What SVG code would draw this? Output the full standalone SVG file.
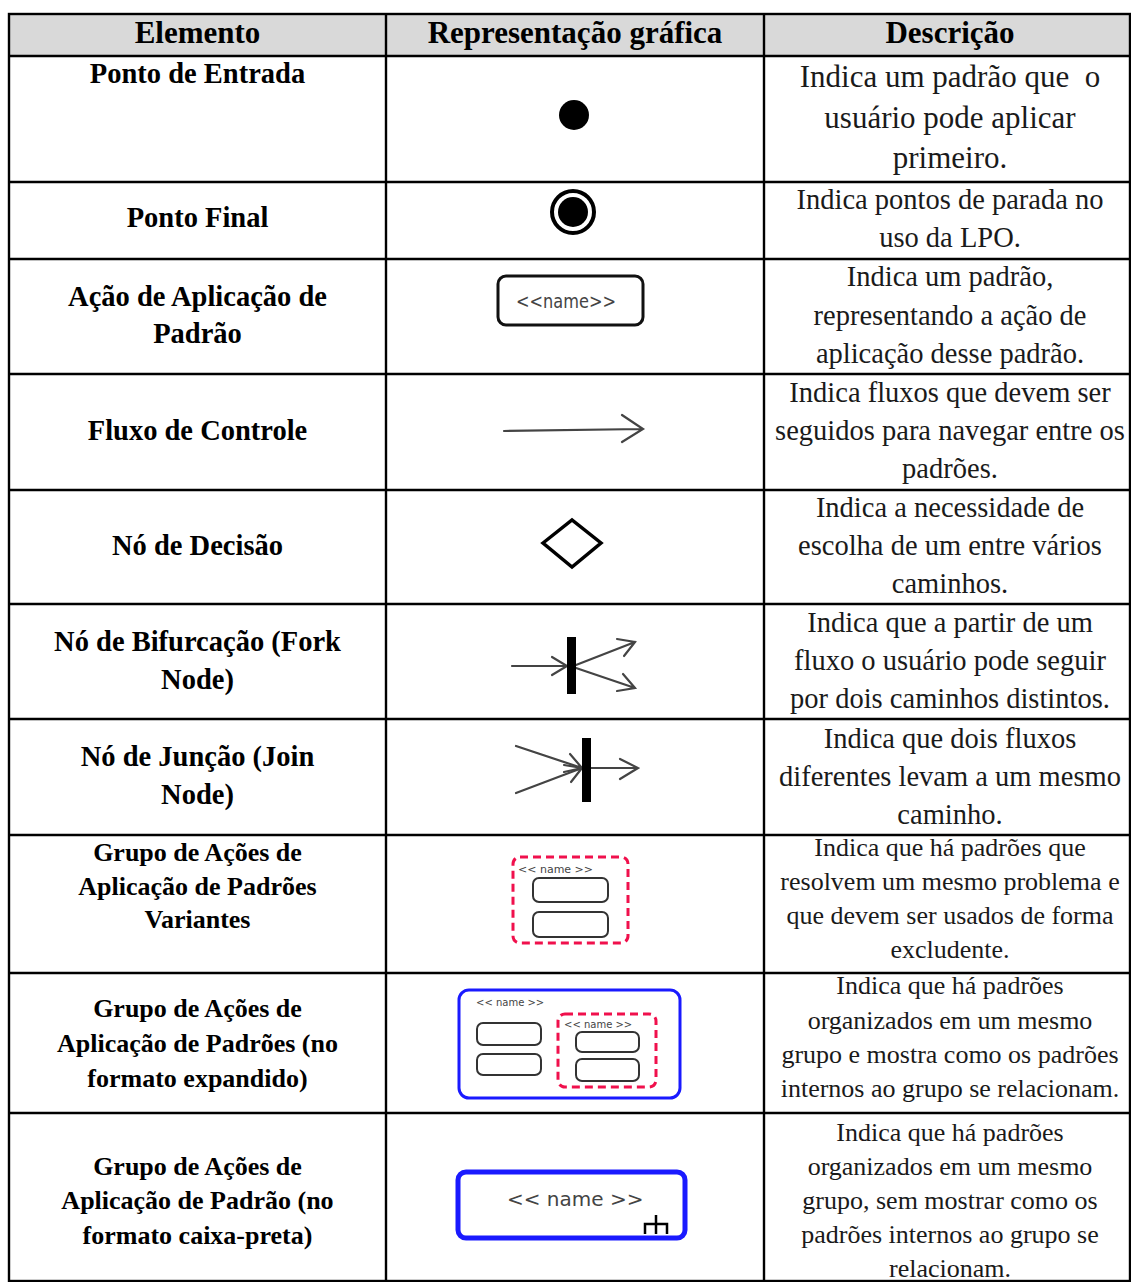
<svg xmlns="http://www.w3.org/2000/svg" width="1131" height="1282" viewBox="0 0 1131 1282">
<style>
.h{font-family:"Liberation Serif",serif;font-weight:bold;font-size:31px;fill:#000;text-anchor:middle}
.l{font-family:"Liberation Serif",serif;font-weight:bold;font-size:28.5px;fill:#000;text-anchor:middle}
.ls{font-family:"Liberation Serif",serif;font-weight:bold;font-size:26px;fill:#000;text-anchor:middle}
.d{font-family:"Liberation Serif",serif;font-size:28.5px;fill:#1a1a1a;text-anchor:middle;white-space:pre}
.d1{font-family:"Liberation Serif",serif;font-size:31px;fill:#1a1a1a;text-anchor:middle;white-space:pre}
.ds{font-family:"Liberation Serif",serif;font-size:26px;fill:#1a1a1a;text-anchor:middle}
.grid{stroke:#000;stroke-width:2.4;fill:none}
.arr{stroke:#444;stroke-width:2.2;fill:none;stroke-linecap:round}
.nm{font-family:"DejaVu Sans",sans-serif;fill:#444;text-anchor:start}
.box{fill:#fff;stroke:#333;stroke-width:2}
.red{fill:none;stroke:#f0104c;stroke-width:3;stroke-dasharray:8 5}
.blue{fill:#fff;stroke:#1a1aff}
</style>
<rect x="0" y="0" width="1131" height="1282" fill="#fff"/>
<g id="header">
<rect x="9" y="14" width="1121" height="42" fill="#d9d9d9"/>
<text class="h" x="197.5" y="43">Elemento</text>
<text class="h" x="575" y="43">Representação gráfica</text>
<text class="h" x="950" y="43">Descrição</text>
</g>
<g id="connectors">
<g class="grid">
<rect x="9" y="14" width="1121" height="1267"/>
<line x1="386" y1="14" x2="386" y2="1281"/>
<line x1="764" y1="14" x2="764" y2="1281"/>
<line x1="9" y1="56" x2="1130" y2="56"/>
<line x1="9" y1="182" x2="1130" y2="182"/>
<line x1="9" y1="259" x2="1130" y2="259"/>
<line x1="9" y1="374" x2="1130" y2="374"/>
<line x1="9" y1="490" x2="1130" y2="490"/>
<line x1="9" y1="604" x2="1130" y2="604"/>
<line x1="9" y1="719" x2="1130" y2="719"/>
<line x1="9" y1="835" x2="1130" y2="835"/>
<line x1="9" y1="973" x2="1130" y2="973"/>
<line x1="9" y1="1113" x2="1130" y2="1113"/>
</g>
</g>
<g id="row-entrada">
<text class="l" x="197.5" y="83">Ponto de Entrada</text>
<circle cx="574" cy="115" r="15" fill="#000"/>
<text class="d1" x="950" y="87">Indica um padrão que  o</text>
<text class="d1" x="950" y="128">usuário pode aplicar</text>
<text class="d1" x="950" y="168">primeiro.</text>
</g>
<g id="row-final">
<text class="l" x="197.5" y="227">Ponto Final</text>
<circle cx="573" cy="212" r="21" fill="#fff" stroke="#000" stroke-width="4"/>
<circle cx="573" cy="212" r="15" fill="#000"/>
<text class="d" x="950" y="209">Indica pontos de parada no</text>
<text class="d" x="950" y="247">uso da LPO.</text>
</g>
<g id="row-acao">
<text class="l" x="197.5" y="306">Ação de Aplicação de</text>
<text class="l" x="197.5" y="343">Padrão</text>
<rect x="498" y="276" width="145" height="49" rx="8" fill="#fff" stroke="#111" stroke-width="3"/>
<text class="nm" x="516" y="308" font-size="19" textLength="100" lengthAdjust="spacingAndGlyphs">&lt;&lt;name&gt;&gt;</text>
<text class="d" x="950" y="286">Indica um padrão,</text>
<text class="d" x="950" y="325">representando a ação de</text>
<text class="d" x="950" y="363">aplicação desse padrão.</text>
</g>
<g id="row-fluxo">
<text class="l" x="197.5" y="440">Fluxo de Controle</text>
<path class="arr" d="M504 431 L643 429 M622 415 L643 429 L622 442"/>
<text class="d" x="950" y="402">Indica fluxos que devem ser</text>
<text class="d" x="950" y="440">seguidos para navegar entre os</text>
<text class="d" x="950" y="478">padrões.</text>
</g>
<g id="row-decisao">
<text class="l" x="197.5" y="555">Nó de Decisão</text>
<polygon points="543,543 572,520 601,543 572,567" fill="#fff" stroke="#000" stroke-width="3.5"/>
<text class="d" x="950" y="517">Indica a necessidade de</text>
<text class="d" x="950" y="555">escolha de um entre vários</text>
<text class="d" x="950" y="593">caminhos.</text>
</g>
<g id="row-fork">
<text class="l" x="197.5" y="651">Nó de Bifurcação (Fork</text>
<text class="l" x="197.5" y="689">Node)</text>
<path class="arr" d="M512 666 L567 666 M552 657 L567 666 L552 675"/>
<path class="arr" d="M576 665 L635 642 M617 639 L635 642 L624 656"/>
<path class="arr" d="M576 668 L635 688 M623 674 L635 688 L617 691"/>
<rect x="567" y="637" width="9" height="57" fill="#000"/>
<text class="d" x="950" y="632">Indica que a partir de um</text>
<text class="d" x="950" y="670">fluxo o usuário pode seguir</text>
<text class="d" x="950" y="708">por dois caminhos distintos.</text>
</g>
<g id="row-join">
<text class="l" x="197.5" y="766">Nó de Junção (Join</text>
<text class="l" x="197.5" y="804">Node)</text>
<path class="arr" d="M516 746 L582 768 M570 754 L582 768 L564 772"/>
<path class="arr" d="M516 793 L582 768 M564 765 L582 768 L571 782"/>
<path class="arr" d="M591 768 L638 768 M620 759 L638 768 L620 779"/>
<rect x="582" y="738" width="9" height="64" fill="#000"/>
<text class="d" x="950" y="748">Indica que dois fluxos</text>
<text class="d" x="950" y="786">diferentes levam a um mesmo</text>
<text class="d" x="950" y="824">caminho.</text>
</g>
<g id="row-variantes">
<text class="ls" x="197.5" y="861">Grupo de Ações de</text>
<text class="ls" x="197.5" y="895">Aplicação de Padrões</text>
<text class="ls" x="197.5" y="928">Variantes</text>
<rect class="red" x="513" y="857" width="115" height="86" rx="7"/>
<text class="nm" x="518" y="873" font-size="11">&lt;&lt; name &gt;&gt;</text>
<rect class="box" x="533" y="878" width="75" height="24" rx="6"/>
<rect class="box" x="533" y="912" width="75" height="25" rx="6"/>
<text class="ds" x="950" y="856">Indica que há padrões que</text>
<text class="ds" x="950" y="890">resolvem um mesmo problema e</text>
<text class="ds" x="950" y="924">que devem ser usados de forma</text>
<text class="ds" x="950" y="958">excludente.</text>
</g>
<g id="row-expandido">
<text class="ls" x="197.5" y="1017">Grupo de Ações de</text>
<text class="ls" x="197.5" y="1052">Aplicação de Padrões (no</text>
<text class="ls" x="197.5" y="1087">formato expandido)</text>
<rect class="blue" x="459" y="990" width="221" height="108" rx="10" stroke-width="3"/>
<text class="nm" x="476" y="1006" font-size="10">&lt;&lt; name &gt;&gt;</text>
<rect class="box" x="477" y="1023" width="64" height="22" rx="6"/>
<rect class="box" x="477" y="1054" width="64" height="21" rx="6"/>
<rect class="red" x="558" y="1014" width="98" height="73" rx="7"/>
<text class="nm" x="564" y="1028" font-size="10">&lt;&lt; name &gt;&gt;</text>
<rect class="box" x="576" y="1032" width="63" height="20" rx="6"/>
<rect class="box" x="576" y="1059" width="63" height="22" rx="6"/>
<text class="ds" x="950" y="994">Indica que há padrões</text>
<text class="ds" x="950" y="1029">organizados em um mesmo</text>
<text class="ds" x="950" y="1063">grupo e mostra como os padrões</text>
<text class="ds" x="950" y="1097">internos ao grupo se relacionam.</text>
</g>
<g id="row-caixa-preta">
<text class="ls" x="197.5" y="1175">Grupo de Ações de</text>
<text class="ls" x="197.5" y="1209">Aplicação de Padrão (no</text>
<text class="ls" x="197.5" y="1244">formato caixa-preta)</text>
<rect class="blue" x="458" y="1172" width="227" height="66" rx="8" stroke-width="5"/>
<text class="nm" x="507" y="1206" font-size="20">&lt;&lt; name &gt;&gt;</text>
<path d="M656 1215 L656 1234 M645 1234 L645 1224 L667 1224 L667 1234" stroke="#000" stroke-width="2.5" fill="none"/>
<text class="ds" x="950" y="1141">Indica que há padrões</text>
<text class="ds" x="950" y="1175">organizados em um mesmo</text>
<text class="ds" x="950" y="1209">grupo, sem mostrar como os</text>
<text class="ds" x="950" y="1243">padrões internos ao grupo se</text>
<text class="ds" x="950" y="1277">relacionam.</text>
</g>
</svg>
